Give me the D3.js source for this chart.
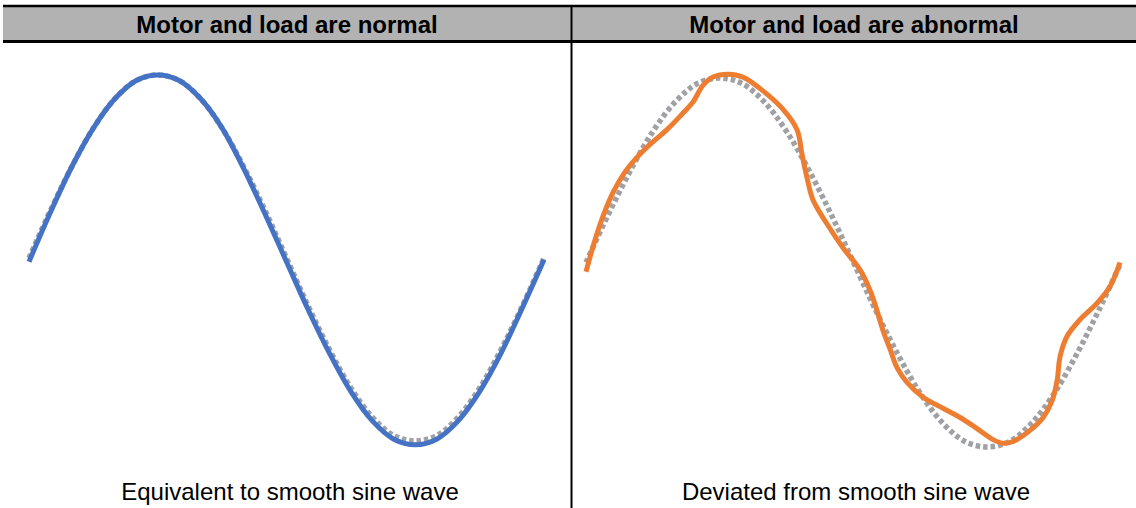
<!DOCTYPE html>
<html>
<head>
<meta charset="utf-8">
<script src="https://cdn.jsdelivr.net/npm/d3@7/dist/d3.min.js"></script>
<style>
  html, body { margin: 0; padding: 0; background: #fff; }
  svg { display: block; }
</style>
</head>
<body>
<svg id="chart" width="1136" height="508"></svg>
<script>
// ---- Data ----
const panelTitles = ["Motor and load are normal", "Motor and load are abnormal"];
const panelCaptions = ["Equivalent to smooth sine wave", "Deviated from smooth sine wave"];

// phase angle (degrees) for the reference / normal traces
const phaseDeg = [0, 15, 30, 45, 60, 75, 90, 105, 120, 135, 150, 165, 180,
                  195, 210, 225, 240, 255, 270, 285, 300, 315, 330, 345, 360];
// smooth reference sine (grey dotted)
const referenceVals = [0, 0.26, 0.5, 0.71, 0.87, 0.97, 1, 0.97, 0.87, 0.71, 0.5, 0.26, 0,
                       -0.26, -0.5, -0.71, -0.87, -0.97, -1, -0.97, -0.87, -0.71, -0.5, -0.26, 0];
// measured current, normal motor (blue)
const normalVals = [-0.02, 0.25, 0.5, 0.71, 0.87, 0.97, 1, 0.97, 0.87, 0.71, 0.49, 0.24, -0.02,
                    -0.28, -0.52, -0.73, -0.89, -0.99, -1.02, -0.99, -0.89, -0.73, -0.52, -0.27, -0.01];
// measured current, abnormal motor (orange)
const abnormalDeg = [0, 6, 11.4, 18.2, 26.2, 34.3, 43.1, 54.5, 65.3, 72, 78.7, 85.5, 95.6, 105.6,
                     119.1, 132.6, 142, 145.3, 148.7, 152.7, 162.1, 172.9, 184.4, 191.1, 195.8,
                     199.9, 204.6, 209.3, 216, 226.8, 240.2, 251.7, 263.1, 273.9, 280.6, 287.4,
                     298.8, 307.6, 313.6, 317, 319, 323.7, 332.4, 343.9, 352.6, 359.3];
const abnormalVals = [-0.05, 0.12, 0.25, 0.38, 0.49, 0.57, 0.64, 0.72, 0.81, 0.87, 0.96, 1.005, 1.02, 1.005,
                      0.93, 0.83, 0.72, 0.59, 0.46, 0.34, 0.21, 0.08, -0.04, -0.15, -0.26,
                      -0.37, -0.47, -0.57, -0.65, -0.73, -0.79, -0.84, -0.90, -0.96, -0.98, -0.97,
                      -0.91, -0.84, -0.75, -0.64, -0.51, -0.40, -0.31, -0.22, -0.13, 0.0];

// ---- Drawing ----
const svg = d3.select("#chart");
const W = 1136, H = 508;
const divX = 571.5;

// header band
svg.append("rect").attr("x", 3).attr("y", 7).attr("width", W - 3).attr("height", 34)
  .attr("fill", "#b2b2b2");
svg.append("line").attr("x1", 3).attr("x2", W).attr("y1", 6).attr("y2", 6)
  .attr("stroke", "#000").attr("stroke-width", 2.5);
svg.append("line").attr("x1", 3).attr("x2", W).attr("y1", 41.5).attr("y2", 41.5)
  .attr("stroke", "#000").attr("stroke-width", 3);
svg.append("line").attr("x1", divX).attr("x2", divX).attr("y1", 5).attr("y2", H)
  .attr("stroke", "#000").attr("stroke-width", 2);

const titleX = [287, 854];
const captionX = [290, 856];
panelTitles.forEach((t, i) => {
  svg.append("text").attr("x", titleX[i]).attr("y", 32.5)
    .attr("text-anchor", "middle")
    .attr("font-family", "'Liberation Sans', Arial, sans-serif")
    .attr("font-weight", "bold").attr("font-size", 24).attr("fill", "#000")
    .text(t);
  svg.append("text").attr("x", captionX[i]).attr("y", 500)
    .attr("text-anchor", "middle")
    .attr("font-family", "'Liberation Sans', Arial, sans-serif")
    .attr("font-size", 24).attr("fill", "#000")
    .text(panelCaptions[i]);
});

// scales per panel
const xL = d3.scaleLinear().domain([0, 360]).range([29, 544]);
const yL = d3.scaleLinear().domain([-1, 1]).range([441, 75]);
const xR = d3.scaleLinear().domain([0, 360]).range([586, 1121]);
const yR = d3.scaleLinear().domain([-1, 1]).range([447, 78]);

function lineGen(xs, ys) {
  return d3.line().x(d => xs(d[0])).y(d => ys(d[1])).curve(d3.curveCatmullRom.alpha(0.5));
}
const refPts = d3.zip(phaseDeg, referenceVals);
const normPts = d3.zip(phaseDeg, normalVals);
const abnPts = d3.zip(abnormalDeg, abnormalVals);

const grey = "#a0a1a4";
// left panel
svg.append("path").attr("d", lineGen(xL, yL)(refPts)).attr("fill", "none")
  .attr("stroke", grey).attr("stroke-width", 5.5).attr("stroke-dasharray", "4.5 3");
svg.append("path").attr("d", lineGen(xL, yL)(normPts)).attr("fill", "none")
  .attr("stroke", "#4472c4").attr("stroke-width", 5);
// right panel
svg.append("path").attr("d", lineGen(xR, yR)(refPts)).attr("fill", "none")
  .attr("stroke", grey).attr("stroke-width", 5.5).attr("stroke-dasharray", "4.5 3");
svg.append("path").attr("d", lineGen(xR, yR)(abnPts)).attr("fill", "none")
  .attr("stroke", "#ed7d31").attr("stroke-width", 5);
</script>
</body>
</html>
